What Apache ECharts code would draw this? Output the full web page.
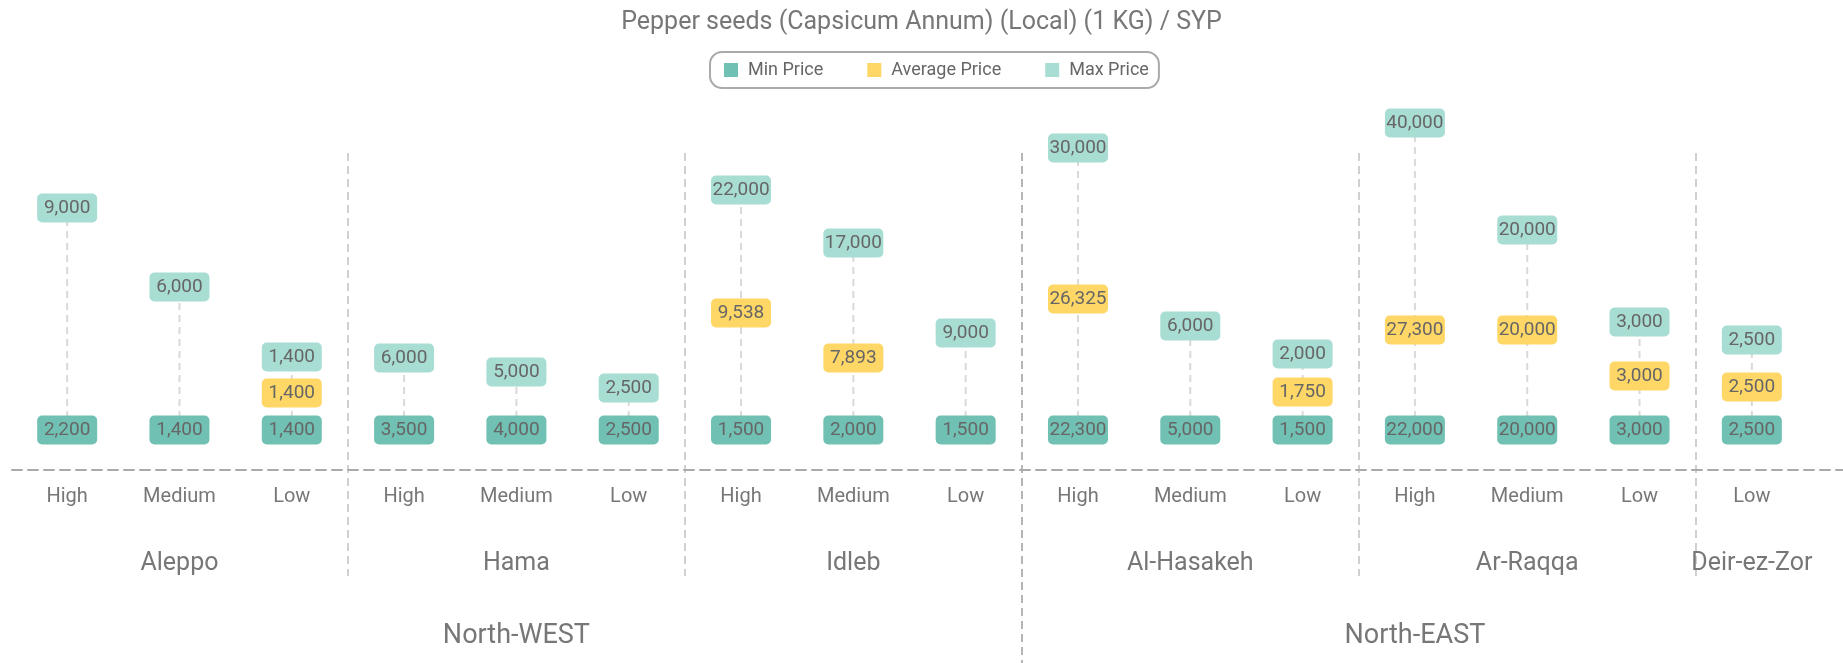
<!DOCTYPE html>
<html>
<head>
<meta charset="utf-8">
<title>Pepper seeds prices</title>
<script src="https://cdn.jsdelivr.net/npm/echarts@6/dist/echarts.min.js"></script>
<style>
  html, body { margin: 0; padding: 0; background: #fff; }
  #chart { width: 1843px; height: 663px; }
</style>
</head>
<body>
<div id="chart"></div>
<script>
// three-level x axis: level / city / region
const levels = ['High', 'Medium', 'Low', 'High', 'Medium', 'Low', 'High', 'Medium', 'Low',
  'High', 'Medium', 'Low', 'High', 'Medium', 'Low', 'Low'];
const cities = ['', 'Aleppo', '', '', 'Hama', '', '', 'Idleb', '', '', 'Al-Hasakeh', '', '', 'Ar-Raqqa', '', 'Deir-ez-Zor'];
const regions = ['', '', '', '', 'North-WEST', '', '', '', '', '', '', '', 'North-EAST', '', '', ''];
const cityBreaks = [3, 6, 12, 15];
const regionBreaks = [0, 9];   // 0 is only there so that 9 keeps its place, it is not drawn

// prices in SYP
const minPrice = [2200, 1400, 1400, 3500, 4000, 2500, 1500, 2000, 1500, 22300, 5000, 1500, 22000, 20000, 3000, 2500];
const avgPrice = [null, null, 1400, null, null, null, 9538, 7893, null, 26325, null, 1750, 27300, 20000, 3000, 2500];
const maxPrice = [9000, 6000, 1400, 6000, 5000, 2500, 22000, 17000, 9000, 30000, 6000, 2000, 40000, 20000, 3000, 2500];

// height of the label boxes above the min row (min row = 0)
const avgLevel = [null, null, 37, null, null, null, 117, 72, null, 131, null, 38, 100, 100, 54, 43];
const maxLevel = [222, 143, 73, 72, 58, 42, 240, 187, 97, 282, 104, 76, 307, 200, 108, 90];

const FONT = 'Roboto';
const BOX = 'path://M5,0 H55 A5,5 0 0 1 60,5 V24 A5,5 0 0 1 55,29 H5 A5,5 0 0 1 0,24 V5 A5,5 0 0 1 5,0 Z';
const fmt = v => v.toLocaleString('en-US');

function boxSeries(name, color, levelArr, priceArr) {
  const pts = [];
  priceArr.forEach((p, i) => {
    if (p != null) pts.push([i, levelArr ? levelArr[i] : 0, p]);
  });
  return {
    name: name,
    type: 'scatter',
    xAxisIndex: 0,
    yAxisIndex: 0,
    symbol: BOX,
    symbolSize: [60, 29],
    itemStyle: { color: color, opacity: 1 },
    label: {
      show: true,
      position: 'inside',
      formatter: p => fmt(p.value[2]),
      color: '#666',
      fontSize: 19,
      fontFamily: FONT
    },
    emphasis: { disabled: true },
    z: 3,
    data: pts
  };
}

const chart = echarts.init(document.getElementById('chart'));
chart.setOption({
  animation: false,
  title: {
    text: 'Pepper seeds (Capsicum Annum) (Local) (1 KG) / SYP',
    left: 'center',
    top: 5,
    textStyle: { color: '#777', fontSize: 25, fontWeight: 'normal', fontFamily: FONT }
  },
  legend: {
    top: 52,
    left: 710,
    data: ['Min Price', 'Average Price', 'Max Price'],
    icon: 'rect',
    itemWidth: 14,
    itemHeight: 14,
    itemGap: 44,
    borderColor: '#aaa',
    borderWidth: 2,
    borderRadius: 12,
    padding: [9, 10, 9, 14],
    textStyle: { color: '#666', fontSize: 18, fontFamily: FONT, padding: [0, 0, 0, 5] }
  },
  grid: [
    { left: 11, right: 35, top: 100, bottom: 193 },  // data
    { left: 12, right: 0, top: 100, bottom: 193 },   // dashed base line
    { left: 11, right: 35, top: 153, bottom: 87 },   // city separators
    { left: 11, right: 35, top: 153, bottom: 0 }     // region separator
  ],
  xAxis: [
    {
      gridIndex: 0, type: 'category', data: levels,
      axisLine: { show: false }, axisTick: { show: false },
      axisLabel: { interval: 0, margin: 17, color: '#777', fontSize: 20, fontFamily: FONT }
    },
    {
      gridIndex: 1, type: 'value', min: 0, max: 1,
      axisLine: { show: true, lineStyle: { color: '#aaa', width: 2, type: [10, 6] } },
      axisTick: { show: false }, axisLabel: { show: false }, splitLine: { show: false }
    },
    {
      gridIndex: 2, type: 'category', data: cities,
      axisLine: { show: false }, axisTick: { show: false },
      axisLabel: { interval: 0, margin: -25, color: '#777', fontSize: 25, fontFamily: FONT },
      splitLine: {
        show: true,
        showMaxLine: false,
        interval: i => cityBreaks.includes(i),
        lineStyle: { color: '#d0d0d0', width: 2, type: [8, 5] }
      }
    },
    {
      gridIndex: 3, type: 'category', data: regions,
      axisLine: { show: false }, axisTick: { show: false },
      axisLabel: { interval: 0, margin: -40, color: '#777', fontSize: 27, fontFamily: FONT },
      splitLine: {
        show: true,
        showMinLine: false,
        showMaxLine: false,
        interval: i => regionBreaks.includes(i),
        lineStyle: { color: '#b5b5b5', width: 2, type: [8, 5] }
      }
    }
  ],
  yAxis: [
    { gridIndex: 0, type: 'value', min: -40, max: 330, show: false },
    { gridIndex: 1, type: 'value', show: false },
    { gridIndex: 2, type: 'value', show: false },
    { gridIndex: 3, type: 'value', show: false }
  ],
  series: [
    {
      type: 'custom',
      xAxisIndex: 0,
      yAxisIndex: 0,
      z: 1,
      silent: true,
      renderItem: function (params, api) {
        const top = api.coord([api.value(0), api.value(1)]);
        const bottom = api.coord([api.value(0), 0]);
        return {
          type: 'line',
          shape: { x1: bottom[0], y1: bottom[1], x2: top[0], y2: top[1] },
          style: { stroke: '#d9d9d9', lineWidth: 2, lineDash: [7, 5] }
        };
      },
      data: maxLevel.map((v, i) => [i, v])
    },
    boxSeries('Min Price', '#70c1b3', null, minPrice),
    boxSeries('Average Price', '#ffd766', avgLevel, avgPrice),
    boxSeries('Max Price', '#a8ddd4', maxLevel, maxPrice)
  ]
});
</script>
</body>
</html>
